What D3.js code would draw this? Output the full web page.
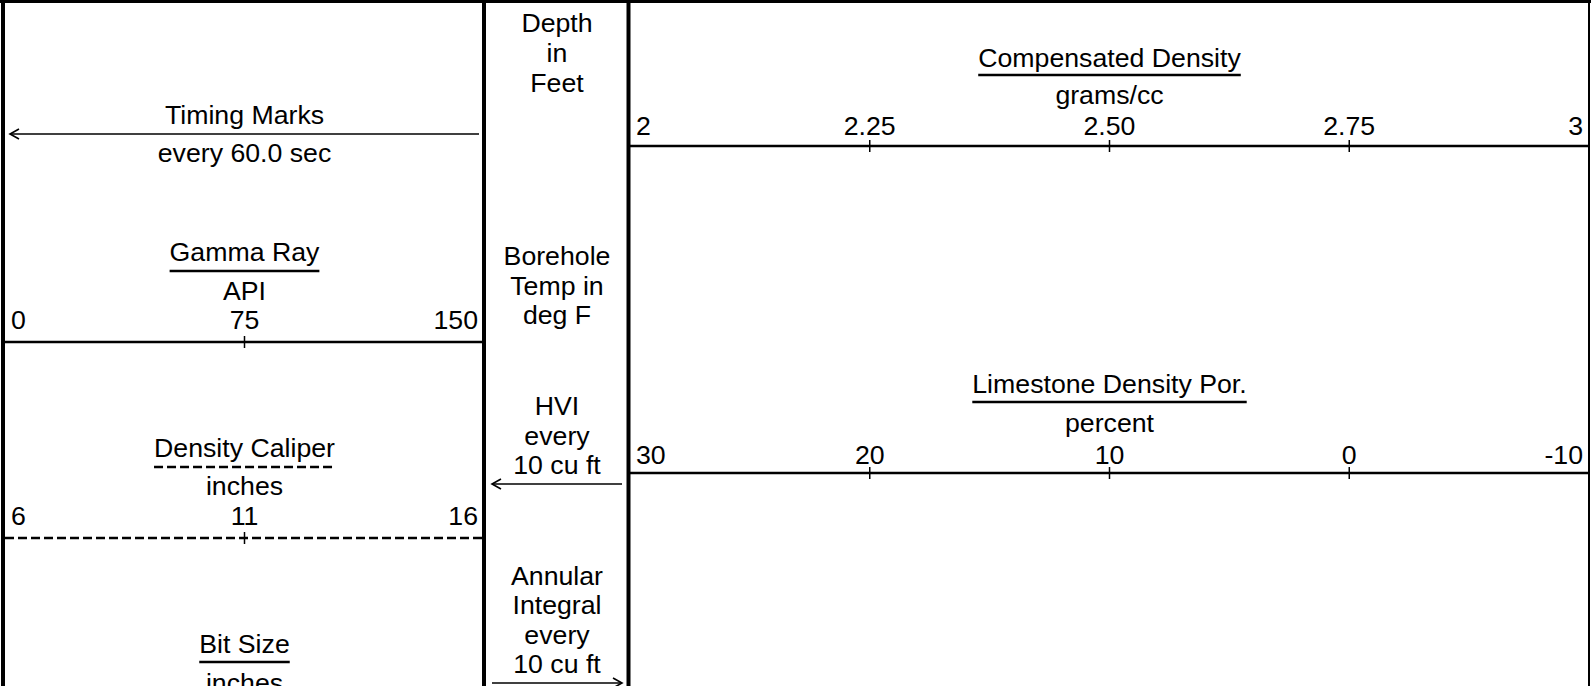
<!DOCTYPE html>
<html><head><meta charset="utf-8">
<script src="https://cdn.jsdelivr.net/npm/d3@7"></script>
<style>
body{margin:0;background:#fff}
svg{display:block}
text{font-family:"Liberation Sans",Arial,sans-serif;font-size:26.7px;fill:#000}
</style>
</head><body>
<svg id="c" width="1591" height="686"></svg>
<script>
// ---- data ----
const gammaDomain = [0, 150];
const gammaTicks = [0, 75, 150];
const gammaLabels = ["0", "75", "150"];
const caliperDomain = [6, 16];
const caliperTicks = [6, 11, 16];
const caliperLabels = ["6", "11", "16"];
const densityDomain = [2, 3];
const densityTicks = [2, 2.25, 2.5, 2.75, 3];
const densityLabels = ["2", "2.25", "2.50", "2.75", "3"];
const porosityDomain = [30, -10];
const porosityTicks = [30, 20, 10, 0, -10];
const porosityLabels = ["30", "20", "10", "0", "-10"];
const depthText = ["Depth", "in", "Feet"];
const tempText = ["Borehole", "Temp in", "deg F"];
const hviText = ["HVI", "every", "10 cu ft"];
const annularText = ["Annular", "Integral", "every", "10 cu ft"];
const timingText = ["Timing Marks", "every 60.0 sec"];

// ---- layout ----
const svg = d3.select("#c");
const W = 1591, H = 686;
const leftX = [5, 484], midX = [486, 628], rightX = [630, 1589];
const leftC = (leftX[0] + leftX[1]) / 2, midC = (midX[0] + midX[1]) / 2, rightC = (rightX[0] + rightX[1]) / 2;

const gammaScale = d3.scaleLinear().domain(gammaDomain).range(leftX);
const caliperScale = d3.scaleLinear().domain(caliperDomain).range(leftX);
const densityScale = d3.scaleLinear().domain(densityDomain).range(rightX);
const porosityScale = d3.scaleLinear().domain(porosityDomain).range(rightX);

function hline(x1, x2, y, w, dash) {
  const l = svg.append("line").attr("x1", x1).attr("x2", x2).attr("y1", y).attr("y2", y)
    .attr("stroke", "#000").attr("stroke-width", w);
  if (dash) l.attr("stroke-dasharray", dash);
  return l;
}
function vline(x, y1, y2, w) {
  svg.append("line").attr("x1", x).attr("x2", x).attr("y1", y1).attr("y2", y2)
    .attr("stroke", "#000").attr("stroke-width", w);
}
function text(str, x, y, anchor) {
  const t = svg.append("text").attr("x", x).attr("y", y).attr("text-anchor", anchor || "middle").text(str);
  return t;
}
function titled(title, unit, cx, yTitle, yUnder, yUnit, dash) {
  const t = text(title, cx, yTitle);
  const w = t.node().getComputedTextLength();
  hline(cx - w / 2, cx + w / 2, yUnder, 2.6, dash);
  text(unit, cx, yUnit);
}
function scaleAxis(scale, ticks, labels, yLine, yLabel, dash) {
  const r = scale.range();
  hline(r[0], r[1], yLine, 2.6, dash);
  ticks.forEach((v, i) => {
    const x = scale(v);
    if (i > 0 && i < ticks.length - 1) {
      vline(x, yLine - 6, yLine + 6, 1.5);
      text(labels[i], x, yLabel, "middle");
    } else if (i === 0) {
      text(labels[i], x + 6, yLabel, "start");
    } else {
      text(labels[i], x - 6, yLabel, "end");
    }
  });
}
function arrow(x1, x2, y) {
  // arrow from x1 to x2, head at x2
  hline(x1, x2, y, 1.6);
  const d = x2 < x1 ? 1 : -1;
  svg.append("path").attr("d", `M${x2 + d * 9},${y - 5}L${x2},${y}L${x2 + d * 9},${y + 5}`)
    .attr("fill", "none").attr("stroke", "#000").attr("stroke-width", 1.6);
}

// ---- frame ----
hline(0, W, 1.5, 3);
vline(3, 0, H, 4);
vline(484, 0, H, 4);
vline(628.5, 0, H, 4);
vline(1589, 0, H, 2);

// ---- left track ----
text(timingText[0], leftC, 124);
arrow(479, 10, 134);
text(timingText[1], leftC, 162);

titled("Gamma Ray", "API", leftC, 261, 271, 300);
scaleAxis(gammaScale, gammaTicks, gammaLabels, 342, 329);

titled("Density Caliper", "inches", leftC, 457, 467, 495, "9,4");
scaleAxis(caliperScale, caliperTicks, caliperLabels, 538, 525, "9,4");

titled("Bit Size", "inches", leftC, 653, 662, 692);

// ---- depth track ----
depthText.forEach((s, i) => text(s, midC, 32 + i * 30));
tempText.forEach((s, i) => text(s, midC, 265 + i * 29.5));
hviText.forEach((s, i) => text(s, midC, 415 + i * 29.5));
arrow(622, 492, 484);
annularText.forEach((s, i) => text(s, midC, 585 + i * 29.3));
arrow(492, 622, 683);

// ---- right track ----
titled("Compensated Density", "grams/cc", rightC, 67, 75, 104);
scaleAxis(densityScale, densityTicks, densityLabels, 146, 135);

titled("Limestone Density Por.", "percent", rightC, 393, 402, 432);
scaleAxis(porosityScale, porosityTicks, porosityLabels, 473, 464);
</script>
</body></html>
